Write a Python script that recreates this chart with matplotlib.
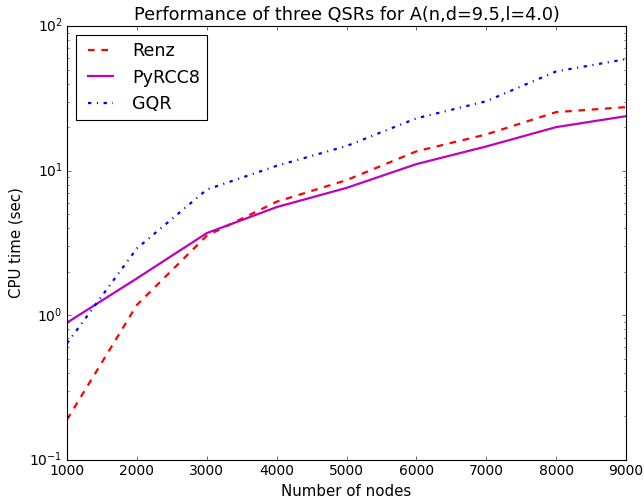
import matplotlib
matplotlib.use('Agg')
import matplotlib.pyplot as plt

# values
nodes = [1000, 2000, 3000, 4000, 5000, 6000, 7000, 8000, 9000]
renz = [0.19, 1.18, 3.55, 6.1, 8.6, 13.6, 17.8, 25.4, 27.5]
pyrcc8 = [0.89, 1.8, 3.7, 5.6, 7.6, 11.1, 14.7, 20.0, 23.8]
gqr = [0.64, 2.9, 7.4, 10.8, 14.8, 23.0, 30.2, 48.5, 59.0]


def main():
    plt.style.use('classic')
    fig = plt.figure(figsize=(644 / 80, 499 / 80), dpi=80, facecolor='white')
    ax = fig.add_subplot(111)
    fig.subplots_adjust(left=67 / 644, right=626 / 644, top=1 - 26 / 499, bottom=1 - 460 / 499)

    ax.plot(nodes, renz, 'r--', lw=2, label='Renz')
    ax.plot(nodes, pyrcc8, 'm-', lw=2, label='PyRCC8')
    ax.plot(nodes, gqr, 'b-.', lw=2, label='GQR')

    ax.set_yscale('log')
    ax.set_xlim(1000, 9000)
    ax.set_ylim(0.1, 100)
    ax.tick_params(labelsize=12.5)
    ax.set_xlabel('Number of nodes', fontsize=13.5)
    ax.set_ylabel('CPU time (sec)', fontsize=13.5)
    ax.set_title('Performance of three QSRs for A(n,d=9.5,l=4.0)', fontsize=15.9)
    ax.legend(loc='upper left', fontsize=15.8)

    fig.savefig('out.png', dpi=80, facecolor='white')
    plt.close(fig)


if __name__ == "__main__":
    main()
